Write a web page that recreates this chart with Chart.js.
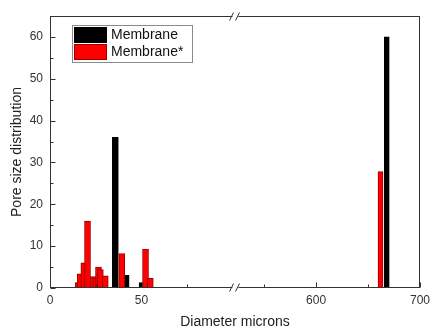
<!DOCTYPE html>
<html><head><meta charset="utf-8">
<script src="https://cdn.jsdelivr.net/npm/chart.js@4"></script>
<style>html,body{margin:0;padding:0;background:#fff}canvas{display:block}</style>
</head><body>
<canvas id="c" width="431" height="329"></canvas>
<script>
const seriesNames = ['Membrane', 'Membrane*'];
const seriesColors = ['#000000', '#ff0000'];
const seriesBorders = ['#000000', '#9a0000'];

const blackLeftX = [35.7, 41.6, 50.3];
const blackLeftY = [36, 3, 1.3];
const blackRightX = [668];
const blackRightY = [60];

const redLeftX = [15.4, 16.5, 18.5, 20.5, 23.5, 25, 26.5, 27.5, 30.2, 39.2, 52.2, 54.8];
const redLeftY = [1.3, 3.4, 6, 16, 2.7, 2.4, 5, 4.4, 2.9, 8.2, 9.3, 2.3];
const redRightX = [662];
const redRightY = [27.8];

const yTicks = [0, 10, 20, 30, 40, 50, 60];
const yMinorTicks = [5, 15, 25, 35, 45, 55];
const xLeftTicks = [0, 50];
const xLeftMinor = [25, 75];
const xRightTicks = [600, 700];
const xRightMinor = [550, 650];

const xTitle = 'Diameter microns';
const yTitle = 'Pore size distribution';

const pts = (xs, ys) => xs.map((x, i) => ({x, y: ys[i]}));

Chart.defaults.font.family = '"Liberation Sans", Arial, sans-serif';
Chart.defaults.color = '#333';

const framePlugin = {
  id: 'frame',
  afterDraw(chart) {
    const {ctx, chartArea: a, scales} = chart;
    ctx.save();
    ctx.strokeStyle = '#333';
    ctx.lineWidth = 1;
    const L = Math.round(a.left) + 0.5, R = Math.round(a.right) - 0.5;
    const T = Math.round(a.top) + 0.5, B = Math.round(a.bottom) - 0.5;
    ctx.strokeRect(L, T, R - L, B - T);
    const line = (x1, y1, x2, y2) => { ctx.beginPath(); ctx.moveTo(x1, y1); ctx.lineTo(x2, y2); ctx.stroke(); };
    yTicks.forEach(v => { const p = Math.round(scales.y.getPixelForValue(v)) + 0.5; line(L, p, L + 5, p); });
    yMinorTicks.forEach(v => { const p = Math.round(scales.y.getPixelForValue(v)) + 0.5; line(L, p, L + 3, p); });
    xLeftTicks.forEach(v => { const p = Math.round(scales.xL.getPixelForValue(v)) + 0.5; line(p, B, p, B - 5); });
    xLeftMinor.forEach(v => { const p = Math.round(scales.xL.getPixelForValue(v)) + 0.5; line(p, B, p, B - 3); });
    xRightTicks.forEach(v => { const p = Math.round(scales.xR.getPixelForValue(v)) + 0.5; line(p, B, p, B - 5); });
    xRightMinor.forEach(v => { const p = Math.round(scales.xR.getPixelForValue(v)) + 0.5; line(p, B, p, B - 3); });
    // axis break marks
    const bx = scales.xL.right + 2.5;
    [T, B].forEach(y => {
      ctx.fillStyle = '#fff';
      ctx.fillRect(bx - 3, y - 1.5, 6, 3);
      line(bx - 6, y + 4, bx - 2, y - 4);
      line(bx + 0, y + 4, bx + 4, y - 4);
    });
    // x title
    ctx.fillStyle = '#222';
    ctx.font = '14px "Liberation Sans", Arial, sans-serif';
    ctx.textAlign = 'center';
    ctx.textBaseline = 'middle';
    ctx.fillText(xTitle, (a.left + a.right) / 2, 322);
    // legend
    const lx = a.left + 22, ly = a.top + 9;
    ctx.strokeStyle = '#8a8a8a';
    ctx.strokeRect(lx + 0.5, ly + 0.5, 120, 37);
    ctx.textAlign = 'left';
    seriesNames.forEach((n, i) => {
      const sy = ly + 2 + i * 17;
      ctx.fillStyle = seriesColors[i];
      ctx.fillRect(lx + 2, sy, 33, 16);
      ctx.strokeStyle = seriesBorders[i];
      ctx.strokeRect(lx + 2.5, sy + 0.5, 32, 15);
      ctx.fillStyle = '#111';
      ctx.fillText(n, lx + 39, sy + 8.5);
    });
    ctx.restore();
  }
};

const mk = (label, data, axis, ci, thick) => ({
  label, data, xAxisID: axis,
  backgroundColor: seriesColors[ci], borderColor: seriesBorders[ci],
  borderWidth: 1, barThickness: thick, grouped: false, borderSkipped: false
});

new Chart(document.getElementById('c'), {
  type: 'bar',
  data: {
    datasets: [
      mk(seriesNames[1], pts(redLeftX, redLeftY), 'xL', 1, 6),
      mk(seriesNames[1], pts(redRightX, redRightY), 'xR', 1, 5),
      mk(seriesNames[0], pts(blackLeftX, blackLeftY), 'xL', 0, 6),
      mk(seriesNames[0], pts(blackRightX, blackRightY), 'xR', 0, 5)
    ]
  },
  options: {
    responsive: false,
    animation: false,
    devicePixelRatio: 1,
    layout: {padding: {left: 0, right: 11, top: 16, bottom: 0}},
    plugins: {legend: {display: false}, tooltip: {enabled: false}},
    scales: {
      xL: {
        type: 'linear', position: 'bottom', stack: 'x', stackWeight: 183,
        min: 0, max: 100, offset: false,
        grid: {display: false, drawTicks: false, offset: false}, border: {display: false},
        afterBuildTicks: s => { s.ticks = xLeftTicks.map(v => ({value: v})); },
        afterFit: s => { s.height = 41; s.paddingLeft = 0; s.paddingRight = 0; },
        ticks: {padding: 5, font: {size: 12}, color: '#333', maxRotation: 0, autoSkip: false}
      },
      xR: {
        type: 'linear', position: 'bottom', stack: 'x', stackWeight: 187,
        min: 520, max: 700, offset: false,
        grid: {display: false, drawTicks: false, offset: false}, border: {display: false},
        afterBuildTicks: s => { s.ticks = xRightTicks.map(v => ({value: v})); },
        afterFit: s => { s.height = 41; s.paddingLeft = 0; s.paddingRight = 0; },
        ticks: {padding: 5, font: {size: 12}, color: '#333', maxRotation: 0, autoSkip: false}
      },
      y: {
        type: 'linear', position: 'left', min: 0, max: 65,
        grid: {display: false, drawTicks: false}, border: {display: false},
        afterBuildTicks: s => { s.ticks = yTicks.map(v => ({value: v})); },
        afterFit: s => { s.width = 50; s.paddingTop = 0; s.paddingBottom = 0; },
        ticks: {padding: 7, font: {size: 12}, color: '#333'},
        title: {display: true, text: yTitle, font: {size: 14}, color: '#222', padding: {top: 9, bottom: 0}}
      }
    }
  },
  plugins: [framePlugin]
});
</script>
</body></html>
